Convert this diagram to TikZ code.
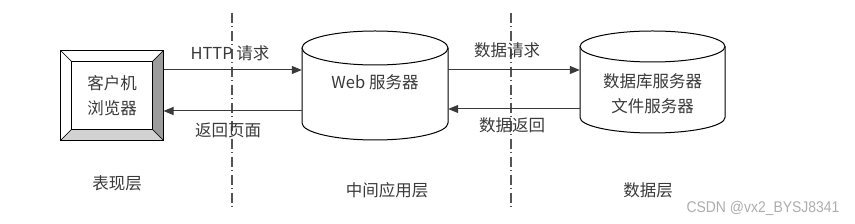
\documentclass[tikz,border=0pt]{standalone}
\usepackage{fontspec}
\setmainfont{Noto Sans CJK SC}
\newfontfamily\markfont{Liberation Sans}
\usepackage{tikz}
\usepackage{xcolor}
\usetikzlibrary{arrows.meta,positioning,calc}
\definecolor{Ink}{HTML}{3A3A3A}
\definecolor{Rule}{HTML}{555555}
\definecolor{BevelR}{HTML}{9C9C9C}
\definecolor{BevelB}{HTML}{D2D2D2}
\definecolor{Mark}{HTML}{ADADAD}
\tikzset{
  txt/.style={text=Ink,font=\fontsize{16.5}{25}\selectfont,inner sep=0pt,align=center},
  conn/.style={draw=Ink,line width=1pt,-{Triangle[length=10pt,width=8pt]}},
  tierline/.style={draw=Rule,line width=1.1pt,dash pattern=on 10pt off 3pt on 1pt off 4pt},
}

\begin{document}
\begin{tikzpicture}[x=1pt,y=1pt]
  \useasboundingbox (0,0) rectangle (855,224);
  % tier separators
  \draw[tierline] (232,211) -- (232,17);
  \draw[tierline] (511,211) -- (511,17);

  % client box with bevel
  \node[draw=black,line width=1pt,minimum width=102pt,minimum height=89pt,inner sep=0pt] (client) at (112,128.5) {};
  \coordinate (inNW) at ($(client.north west)+(11,-11)$);
  \coordinate (inNE) at ($(client.north east)+(-11,-11)$);
  \coordinate (inSW) at ($(client.south west)+(11,11)$);
  \coordinate (inSE) at ($(client.south east)+(-11,11)$);
  \filldraw[fill=white,draw=black] (client.north west) -- (client.north east) -- (inNE) -- (inNW) -- cycle;
  \filldraw[fill=white,draw=black] (client.north west) -- (inNW) -- (inSW) -- (client.south west) -- cycle;
  \filldraw[fill=BevelR,draw=black] (client.north east) -- (client.south east) -- (inSE) -- (inNE) -- cycle;
  \filldraw[fill=BevelB,draw=black] (client.south west) -- (inSW) -- (inSE) -- (client.south east) -- cycle;
  \draw[black,line width=1pt] (inNW) rectangle (inSE);
  \draw[black,line width=1pt] (client.north west) rectangle (client.south east);
  \node[txt] (clienttxt) at (client.center) {客户机\\浏览器};

  % web server cylinder
  \node[minimum width=146pt,minimum height=109pt,inner sep=0pt] (web) at (375,138.5) {};
  \filldraw[fill=white,draw=black,line width=1pt] (302,176) -- (302,101) arc[start angle=180,end angle=360,x radius=73,y radius=17] -- (448,176);
  \draw[black,line width=1pt,fill=white] (375,176) ellipse[x radius=73,y radius=17];
  \node[txt] (webtxt) at (375,142) {Web 服务器};

  % data server cylinder
  \node[minimum width=145pt,minimum height=102pt,inner sep=0pt] (db) at (652.5,142) {};
  \filldraw[fill=white,draw=black,line width=1pt] (580,177.5) -- (580,106.5) arc[start angle=180,end angle=360,x radius=72.5,y radius=15.5] -- (725,177.5);
  \draw[black,line width=1pt,fill=white] (652.5,177.5) ellipse[x radius=72.5,y radius=15.5];
  \node[txt] (dbtxt) at (652.5,130.5) {数据库服务器\\文件服务器};

  % connectors
  \draw[conn] (client.east |- 0,154) -- (web.west |- 0,154);
  \draw[conn] (web.west |- 0,113) -- (client.east |- 0,113);
  \draw[conn] (web.east |- 0,154) -- (db.west |- 0,154);
  \draw[conn] (db.west |- 0,115) -- (web.east |- 0,115);

  \node[txt] (httpreq) at (230,171) {HTTP 请求};
  \node[txt] (backpage) at (228,94) {返回页面};
  \node[txt] (datareq) at (507,174) {数据请求};
  \node[txt] (databack) at (512,99) {数据返回};

  % tier names
  \node[txt] (tier1) at (117,41) {表现层};
  \node[txt] (tier2) at (387,34) {中间应用层};
  \node[txt] (tier3) at (648,34) {数据层};

  \node[text=Mark,font=\markfont\fontsize{15.5}{18}\selectfont,inner sep=0pt,xscale=0.9] (mark) at (763,16) {CSDN @vx2\_BYSJ8341};
\end{tikzpicture}
\end{document}
